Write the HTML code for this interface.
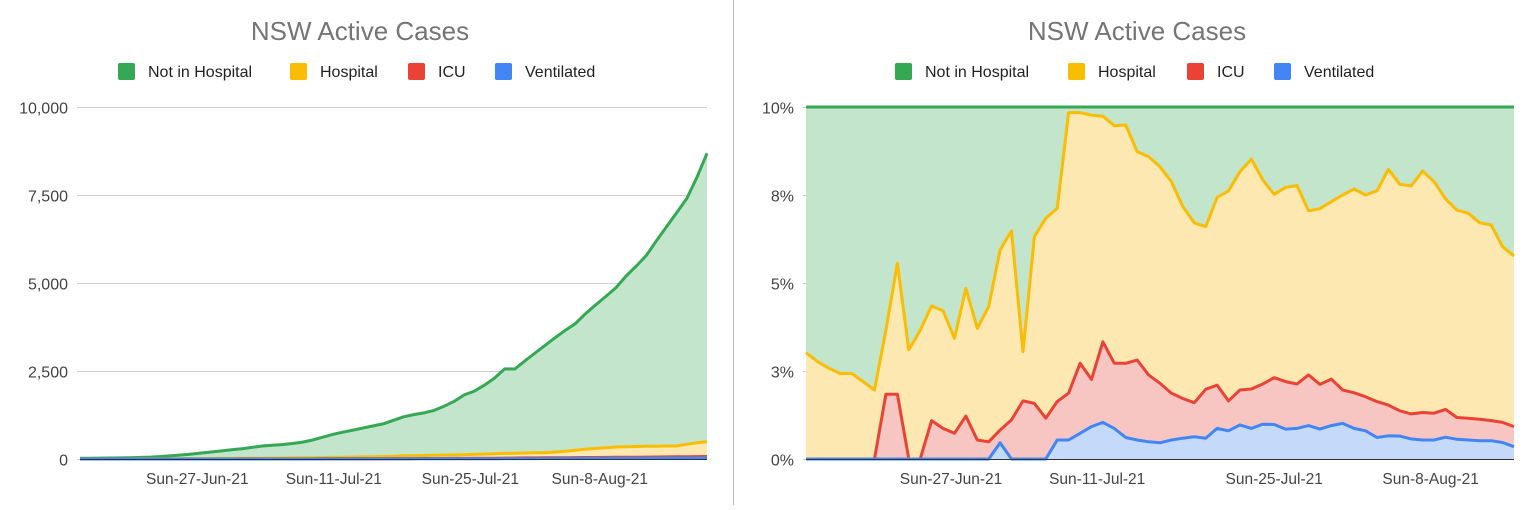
<!DOCTYPE html>
<html><head><meta charset="utf-8">
<style>
body{margin:0;background:#fff;font-family:"Liberation Sans",Arial,sans-serif;}
svg text{font-family:"Liberation Sans",Arial,sans-serif;}
</style></head>
<body>
<svg id="c" width="1535" height="505" viewBox="0 0 1535 505" xmlns="http://www.w3.org/2000/svg">
<rect x="0" y="0" width="1535" height="505" fill="#fff"/>
<line x1="733.5" y1="0" x2="733.5" y2="505" stroke="#bbb" stroke-width="1"/>
</svg>
<script>
// ===== Left chart data (absolute counts, 63 reports) =====
const activeTotal=[20,22,25,28,32,38,45,55,70,90,115,140,170,200,230,260,290,330,370,390,410,440,480,540,620,700,760,820,880,940,1000,1100,1200,1260,1310,1380,1500,1640,1820,1930,2100,2300,2560,2557,2790,3010,3230,3450,3660,3850,4130,4380,4620,4870,5200,5480,5780,6200,6600,7000,7400,8000,8685];
const hospitalTotal=[3,3,3,3,3,4,5,6,7,8,9,10,12,14,16,18,20,22,24,26,28,30,33,36,40,45,50,55,60,65,70,80,90,95,100,105,110,115,120,130,140,150,160,165,170,175,180,200,220,250,280,300,320,340,350,355,360,365,370,370,420,460,492];
const icuTotal=[0,0,0,0,0,0,0,0,0,0,0,1,1,1,1,1,2,2,2,3,3,3,4,4,5,5,6,6,7,8,9,10,11,12,13,14,15,17,18,20,22,24,26,28,30,32,34,36,38,40,42,44,46,48,50,52,55,58,60,62,64,67,70];
const ventilated=[0,0,0,0,0,0,0,0,0,0,0,0,0,0,0,0,1,1,1,1,1,1,1,1,2,2,2,2,3,3,3,4,4,5,5,5,6,6,7,8,8,9,10,10,11,12,13,14,15,16,17,18,19,20,22,24,25,26,27,28,28,29,30];
const leftTickValues=[0,2500,5000,7500,10000];
const leftTickLabels=["0","2,500","5,000","7,500","10,000"];
const leftDateLabels=["Sun-27-Jun-21","Sun-11-Jul-21","Sun-25-Jul-21","Sun-8-Aug-21"];
const leftDateIdx=[11.6,25.1,38.6,51.4];
// ===== Right chart data (% of active cases, stacked tops) =====
const hospitalPct=[3.02,2.77,2.58,2.43,2.43,2.20,1.96,3.66,5.56,3.10,3.66,4.35,4.21,3.43,4.85,3.71,4.33,5.94,6.48,3.05,6.32,6.84,7.12,9.84,9.84,9.77,9.74,9.47,9.49,8.73,8.59,8.30,7.88,7.17,6.71,6.60,7.43,7.62,8.16,8.52,7.93,7.52,7.72,7.77,7.05,7.11,7.31,7.50,7.67,7.50,7.62,8.23,7.80,7.76,8.18,7.88,7.39,7.07,6.98,6.71,6.65,6.03,5.77];
const icuPct=[0,0,0,0,0,0,0,1.84,1.84,0,0,1.09,0.87,0.73,1.22,0.54,0.49,0.82,1.11,1.65,1.58,1.16,1.63,1.87,2.72,2.26,3.33,2.72,2.72,2.81,2.39,2.15,1.87,1.72,1.60,1.98,2.10,1.65,1.96,1.99,2.13,2.31,2.20,2.13,2.39,2.12,2.27,1.96,1.88,1.77,1.63,1.53,1.37,1.28,1.32,1.30,1.41,1.18,1.16,1.13,1.09,1.04,0.92];
const ventPct=[0,0,0,0,0,0,0,0,0,0,0,0,0,0,0,0,0,0.46,0,0,0,0,0.54,0.54,0.73,0.92,1.04,0.87,0.61,0.54,0.49,0.46,0.54,0.59,0.63,0.59,0.87,0.80,0.97,0.87,0.99,0.98,0.85,0.87,0.95,0.85,0.95,1.01,0.87,0.80,0.61,0.66,0.65,0.57,0.54,0.54,0.62,0.56,0.54,0.52,0.52,0.47,0.35];
const rightTickValues=[0,2.5,5,7.5,10];
const rightTickLabels=["0%","3%","5%","8%","10%"];
const rightDateLabels=["Sun-27-Jun-21","Sun-11-Jul-21","Sun-25-Jul-21","Sun-8-Aug-21"];
const rightDateIdx=[12.7,25.5,41,54.7];
const legendNames=["Not in Hospital","Hospital","ICU","Ventilated"];

const NS="http://www.w3.org/2000/svg";
const svg=document.getElementById('c');
const COL={g:"#34a853",y:"#fbbc04",r:"#ea4335",b:"#4285f4"};
const FILL={g:"#c2e5cb",y:"#fde8b1",r:"#f8c6c2",b:"#c5d9fb"};
function mk(tag,attrs,parent){const e=document.createElementNS(NS,tag);for(const k in attrs)e.setAttribute(k,attrs[k]);(parent||svg).appendChild(e);return e;}

function chart(o){
  const g=mk('g',{});
  
  
  const n=o.tops[0].length;
  const X=i=>o.x0+(o.x1-o.x0)*i/(n-1);
  const Y=v=>o.y0-(o.y0-o.y1)*v/o.max;
  const t=mk('text',{x:o.cx,y:40,'text-anchor':'middle','font-size':26,fill:'#757575'},g);
  t.textContent="NSW Active Cases";
  
  
  // legend
  const cols=[COL.g,COL.y,COL.r,COL.b];
  o.legX.forEach((lx,k)=>{
    const lg=mk('g',{},g);
    
    
    mk('rect',{x:lx,y:63,width:17,height:17,rx:2,fill:cols[k]},lg);
    const tx=mk('text',{x:lx+30,y:77,'font-size':16,fill:'#222'},lg);
    tx.textContent=legendNames[k];
  });
  // grid & ticks
  o.ticks.forEach((v,k)=>{
    const yy=Math.round(Y(v))+0.5;
    const gl=mk('line',{x1:o.x0-3,x2:o.x1,y1:yy,y2:yy,stroke:'#ccc','stroke-width':1},g);
    
    
    const tl=mk('text',{x:o.x0-12,y:yy+6,'text-anchor':'end','font-size':16,fill:'#444'},g);
    tl.textContent=o.tickLabels[k];
    
    
  });
  // areas from top to bottom
  const names=['not-in-hospital','hospital','icu','ventilated'];
  const keys=['g','y','r','b'];
  o.tops.forEach((arr,k)=>{
    let d='M'+X(0)+','+Y(0);
    arr.forEach((v,i)=>{d+=' L'+X(i).toFixed(1)+','+Y(v).toFixed(1);});
    d+=' L'+X(n-1)+','+Y(0)+' Z';
    const a=mk('path',{d:d,fill:FILL[keys[k]]},g);
    
    
  });
  o.tops.forEach((arr,k)=>{
    const pts=arr.map((v,i)=>X(i).toFixed(1)+','+Y(v).toFixed(1)).join(' ');
    const l=mk('polyline',{points:pts,fill:'none',stroke:COL[keys[k]],'stroke-width':3,'stroke-linejoin':'round'},g);
    
    
  });
  const base=mk('line',{x1:o.x0,x2:o.x1,y1:o.y0+0.5,y2:o.y0+0.5,stroke:'#333','stroke-width':1},g);
  
  
  o.dates.forEach((s,k)=>{
    const dl=mk('text',{x:X(o.dateIdx[k]),y:484,'text-anchor':'middle','font-size':15.5,fill:'#444'},g);
    dl.textContent=s;
    
    
  });
}
chart({name:'left-chart-absolute',cx:360,x0:80,x1:707,y0:459,y1:107,max:10000,
  tops:[activeTotal,hospitalTotal,icuTotal,ventilated],ticks:leftTickValues,tickLabels:leftTickLabels,
  dates:leftDateLabels,dateIdx:leftDateIdx,legX:[118,290,408,495]});
const full=hospitalPct.map(()=>10);
chart({name:'right-chart-percent',cx:1137,x0:806,x1:1514,y0:459,y1:107,max:10,
  tops:[full,hospitalPct,icuPct,ventPct],ticks:rightTickValues,tickLabels:rightTickLabels,
  dates:rightDateLabels,dateIdx:rightDateIdx,legX:[895,1068,1187,1274]});
</script>
</body></html>
